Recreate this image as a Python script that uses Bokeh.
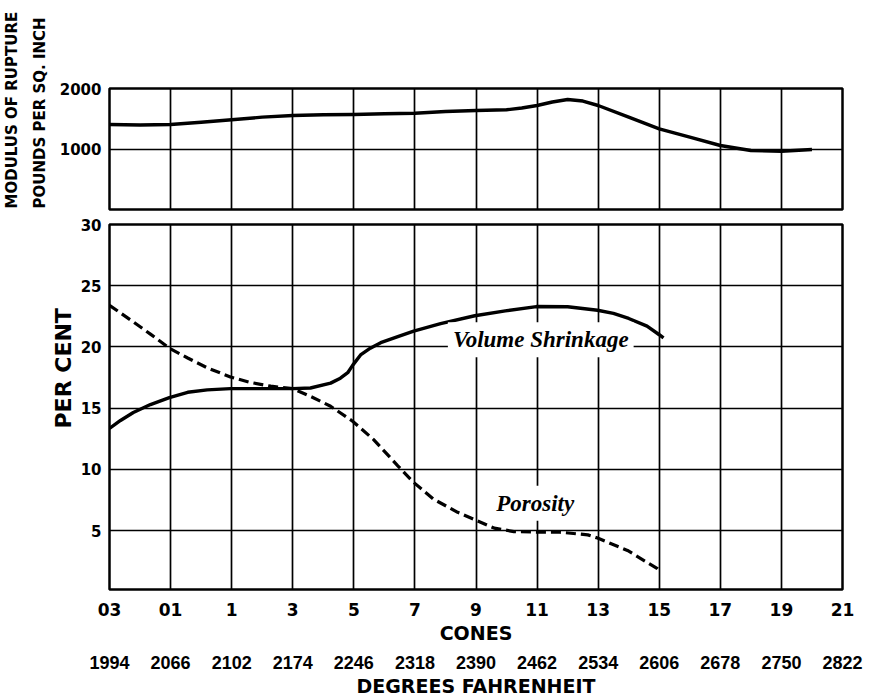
from bokeh.plotting import figure
from bokeh.layouts import column
from bokeh.models import Range1d, FixedTicker, Grid, LinearAxis, Label, Title
from bokeh.embed import file_html
from bokeh.resources import INLINE

# ---- data ----
cones = ["03", "01", "1", "3", "5", "7", "9", "11", "13", "15", "17", "19", "21"]
fahrenheit = ["1994", "2066", "2102", "2174", "2246", "2318", "2390",
              "2462", "2534", "2606", "2678", "2750", "2822"]

# positions in grid units (0 = cone 03, 12 = cone 21)
mod_x = [0, 0.5, 1, 1.5, 2, 2.5, 3, 3.5, 4, 4.5, 5, 5.5, 6, 6.5, 6.75, 7, 7.25,
         7.5, 7.75, 8, 8.5, 9, 9.5, 10, 10.5, 11, 11.5]
mod_y = [1405, 1397, 1405, 1443, 1483, 1526, 1554, 1565, 1570, 1582, 1592, 1620,
         1636, 1648, 1678, 1719, 1777, 1818, 1793, 1719, 1526, 1334, 1195, 1058,
         975, 964, 992]

vol_x = [0, 0.18, 0.39, 0.67, 0.98, 1.28, 1.6, 1.98, 2.59, 3.0, 3.29, 3.62, 3.78,
         3.9, 3.98, 4.11, 4.27, 4.44, 4.72, 4.98, 5.42, 5.98, 6.48, 6.99, 7.5,
         7.99, 8.25, 8.5, 8.8, 9.0, 9.07]
vol_y = [13.35, 14.0, 14.65, 15.3, 15.87, 16.3, 16.5, 16.6, 16.6, 16.6, 16.65,
         17.05, 17.45, 17.9, 18.5, 19.35, 19.9, 20.35, 20.85, 21.3, 21.9, 22.55,
         22.95, 23.3, 23.28, 23.0, 22.74, 22.33, 21.7, 21.0, 20.74]

por_x = [0, 0.39, 0.67, 0.98, 1.28, 1.6, 1.98, 2.31, 2.64, 3.0, 3.29, 3.62, 3.98,
         4.32, 4.72, 4.98, 5.3, 5.7, 5.98, 6.3, 6.62, 7.0, 7.37, 7.83, 7.99,
         8.48, 8.97, 9.0]
por_y = [23.4, 22.05, 21.05, 19.9, 19.1, 18.3, 17.55, 17.1, 16.8, 16.6, 15.97,
         15.16, 13.94, 12.46, 10.3, 8.94, 7.59, 6.5, 5.9, 5.21, 4.93, 4.88, 4.88,
         4.66, 4.4, 3.39, 1.9, 1.75]

mod_ticks = [1000, 2000]
pct_ticks = [5, 10, 15, 20, 25, 30]

SANS = "DejaVu Sans"
SERIF = "Liberation Serif"

W = 877
TOP_H = 216
BOT_H = 699 - TOP_H


def style_common(p):
    p.background_fill_color = "white"
    p.border_fill_color = "white"
    p.outline_line_color = "black"
    p.outline_line_width = 2.5
    for g in p.grid:
        g.visible = False


def style_yaxis(ax, ticks):
    ax.ticker = FixedTicker(ticks=ticks)
    ax.axis_line_color = None
    ax.major_tick_line_color = None
    ax.minor_tick_line_color = None
    ax.major_tick_out = 0
    ax.major_tick_in = 0
    ax.major_label_standoff = 8
    ax.major_label_text_font = SANS
    ax.major_label_text_font_style = "bold"
    ax.major_label_text_font_size = "15px"
    ax.major_label_text_color = "black"


def side_title(text, size, offset, standoff):
    return Title(text=text, align="left", offset=offset, standoff=standoff,
                 text_font=SANS, text_font_style="bold", text_font_size=size,
                 text_color="black")


# ---- top panel: modulus of rupture ----
top = figure(width=W, height=TOP_H, x_range=Range1d(0, 12),
             y_range=Range1d(0, 2000), output_backend="svg", toolbar_location=None,
             x_axis_location=None, min_border_left=109,
             min_border_right=35, min_border_top=88, min_border_bottom=7)
style_common(top)
style_yaxis(top.yaxis[0], mod_ticks)
top.add_layout(Grid(dimension=0, ticker=FixedTicker(ticks=list(range(13))),
                    grid_line_color="black", grid_line_width=1.7))
top.add_layout(Grid(dimension=1, ticker=FixedTicker(ticks=mod_ticks),
                    grid_line_color="black", grid_line_width=1.4))
top.line(mod_x, mod_y, line_color="black", line_width=3.4, line_join="round")
top.add_layout(side_title("POUNDS PER SQ. INCH", "15px", 1, 16), "left")
top.add_layout(side_title("MODULUS OF RUPTURE", "15px", 1, 0), "left")

# ---- bottom panel: per cent ----
bot = figure(width=W, height=BOT_H, x_range=Range1d(0, 12),
             y_range=Range1d(0.2, 30), output_backend="svg", toolbar_location=None,
             min_border_left=109, min_border_right=35,
             min_border_top=8, min_border_bottom=108)
style_common(bot)
style_yaxis(bot.yaxis[0], pct_ticks)
bot.add_layout(side_title("PER CENT", "22px", 161, 4), "left")
bot.add_layout(Grid(dimension=0, ticker=FixedTicker(ticks=list(range(13))),
                    grid_line_color="black", grid_line_width=1.7))
bot.add_layout(Grid(dimension=1, ticker=FixedTicker(ticks=pct_ticks),
                    grid_line_color="black", grid_line_width=1.4))

bot.line(vol_x, vol_y, line_color="black", line_width=3.4, line_join="round")
bot.line(por_x, por_y, line_color="black", line_width=3.2, line_dash="10 5")


def style_xaxis(ax, labels, title, label_font, label_size, standoff, title_size,
                title_standoff):
    ax.ticker = FixedTicker(ticks=list(range(13)))
    ax.major_label_overrides = {i: labels[i] for i in range(13)}
    ax.axis_line_color = None
    ax.major_tick_line_color = None
    ax.minor_tick_line_color = None
    ax.major_tick_out = 0
    ax.major_tick_in = 0
    ax.major_label_standoff = standoff
    ax.major_label_text_font = label_font
    ax.major_label_text_font_style = "bold"
    ax.major_label_text_font_size = label_size
    ax.major_label_text_color = "black"
    ax.axis_label = title
    ax.axis_label_standoff = title_standoff
    ax.axis_label_text_font = SANS
    ax.axis_label_text_font_style = "bold"
    ax.axis_label_text_font_size = title_size
    ax.axis_label_text_color = "black"


style_xaxis(bot.xaxis[0], cones, "CONES", SANS, "17px", 13, "19px", 3)
fax = LinearAxis()
style_xaxis(fax, fahrenheit, "DEGREES FAHRENHEIT", "Liberation Sans", "18px", 9,
            "19px", 3)
bot.add_layout(fax, "below")

bot.add_layout(Label(x=7.06, y=20.6, text="Volume Shrinkage",
                     text_align="center", text_baseline="middle",
                     text_font=SERIF, text_font_style="bold italic",
                     text_font_size="23px", text_color="black",
                     background_fill_color="white", padding=5))
bot.add_layout(Label(x=6.97, y=7.25, text="Porosity",
                     text_align="center", text_baseline="middle",
                     text_font=SERIF, text_font_style="bold italic",
                     text_font_size="23px", text_color="black",
                     background_fill_color="white", padding=5))

layout = column(top, bot, spacing=0)
open("out.html", "w").write(file_html(layout, INLINE))
